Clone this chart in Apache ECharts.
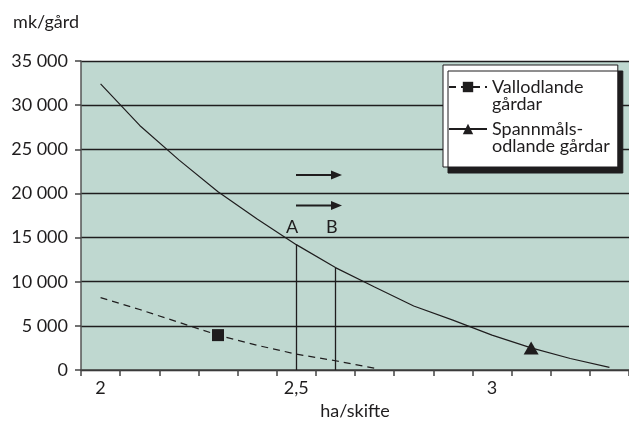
<!DOCTYPE html>
<html lang="sv">
<head>
    <meta charset="UTF-8">
    <title>mk/gård per ha/skifte</title>
    <script src="https://cdn.jsdelivr.net/npm/echarts@6/dist/echarts.min.js"></script>
    <style>
        html, body { margin: 0; padding: 0; background: #fff; }
        #main { width: 629px; height: 425px; }
    </style>
</head>
<body>
<div id="main"></div>
<script type="text/javascript">
    // kategorier (ha/skifte)
    var categories = ['2', '2,1', '2,2', '2,3', '2,4', '2,5', '2,6', '2,7', '2,8', '2,9', '3', '3,1', '3,2', '3,3'];
    var tickLabels = ['2', '2,5', '3'];

    // mk/gård
    var spannmal = [32400, 27700, 23800, 20200, 17100, 14200, 11600, 9400, 7250, 5650, 3950, 2500, 1300, 300];
    var vallodling = [8200, 6850, 5400, 3950, 2800, 1800, 1050, 200, null, null, null, null, null, null];

    var squareAt = '2,3';
    var triangleAt = '3,1';
    var dropAt = ['2,5', '2,6'];
    var dropNames = ['A', 'B'];

    var ink = '#1f1d1e';
    var font = 'Lato';

    function withMarker(values, at) {
        return values.map(function (v, i) {
            if (categories[i] === at) return { value: v };
            return { value: v, symbol: 'none' };
        });
    }

    var dropLines = dropAt.map(function (c) {
        var v = spannmal[categories.indexOf(c)];
        return [{ coord: [c, 0] }, { coord: [c, v] }];
    });

    var myChart = echarts.init(document.getElementById('main'));

    var option = {
        animation: false,
        textStyle: { fontFamily: font, color: ink },
        grid: {
            left: 81, right: 0, top: 61, bottom: 55,
            show: true, backgroundColor: '#bfd8d0', borderWidth: 0
        },
        legend: {
            orient: 'vertical',
            left: 443, top: 65,
            itemWidth: 38, itemHeight: 13, itemGap: -10,
            padding: [-4, 8, 12, 5],
            backgroundColor: '#fff',
            borderColor: ink, borderWidth: 1,
            shadowColor: ink, shadowBlur: 0, shadowOffsetX: 5, shadowOffsetY: 6,
            // tom rad ovanför så att första raden hamnar i höjd med ikonen
            formatter: function (name) { return ' \n' + name; },
            textStyle: { fontSize: 18, lineHeight: 17, color: ink, fontFamily: font },
            data: ['Vallodlande\ngårdar', 'Spannmåls-\nodlande gårdar']
        },
        xAxis: {
            type: 'category',
            data: categories,
            boundaryGap: true,
            name: 'ha/skifte',
            nameLocation: 'middle',
            nameGap: 32,
            nameTextStyle: { fontSize: 18, color: ink },
            axisLine: { lineStyle: { color: '#444', width: 1.5 } },
            axisTick: { show: true, interval: 0, length: 6, lineStyle: { color: '#444', width: 1.5 } },
            axisLabel: {
                interval: 0, fontSize: 18, color: ink, margin: 9,
                formatter: function (v) { return tickLabels.indexOf(v) >= 0 ? v : ''; }
            },
            splitLine: { show: false }
        },
        yAxis: {
            type: 'value',
            min: 0, max: 35000, interval: 5000,
            name: 'mk/gård',
            nameLocation: 'end',
            nameGap: 30,
            nameTextStyle: { fontSize: 18, color: ink, align: 'right', padding: [0, 2, 0, 0] },
            axisLine: { show: true, lineStyle: { color: '#555', width: 1.5 } },
            axisTick: { show: true, length: 6, lineStyle: { color: '#444', width: 1.5 } },
            axisLabel: {
                fontSize: 18, color: ink, margin: 13,
                formatter: function (v) { return String(v).replace(/\B(?=(\d{3})+(?!\d))/g, ' '); }
            },
            splitLine: { lineStyle: { color: ink, width: 1.3 } }
        },
        series: [
            {
                name: 'Vallodlande\ngårdar',
                type: 'line',
                data: withMarker(vallodling, squareAt),
                symbol: 'rect',
                symbolSize: 12,
                showSymbol: true,
                itemStyle: { color: ink },
                lineStyle: { color: ink, width: 1.2, type: [7, 5] },
                z: 3
            },
            {
                name: 'Spannmåls-\nodlande gårdar',
                type: 'line',
                data: withMarker(spannmal, triangleAt),
                symbol: 'triangle',
                symbolSize: [15, 13],
                showSymbol: true,
                itemStyle: { color: ink },
                lineStyle: { color: ink, width: 1.2 },
                markLine: {
                    silent: true,
                    symbol: 'none',
                    label: { show: false },
                    lineStyle: { color: ink, width: 1.3, type: 'solid' },
                    data: dropLines
                },
                z: 3
            }
        ],
        graphic: [
            { type: 'text', left: 286, top: 218, style: { text: dropNames[0], fontSize: 18, fontFamily: font, fill: ink } },
            { type: 'text', left: 326, top: 218, style: { text: dropNames[1], fontSize: 18, fontFamily: font, fill: ink } },
            { type: 'line', shape: { x1: 296, y1: 175, x2: 333, y2: 175 }, style: { stroke: ink, lineWidth: 2 } },
            { type: 'polygon', shape: { points: [[331, 170.5], [342, 175], [331, 179.5]] }, style: { fill: ink } },
            { type: 'line', shape: { x1: 296, y1: 205.5, x2: 333, y2: 205.5 }, style: { stroke: ink, lineWidth: 2 } },
            { type: 'polygon', shape: { points: [[331, 201], [342, 205.5], [331, 210]] }, style: { fill: ink } }
        ]
    };

    myChart.setOption(option);
</script>
</body>
</html>
